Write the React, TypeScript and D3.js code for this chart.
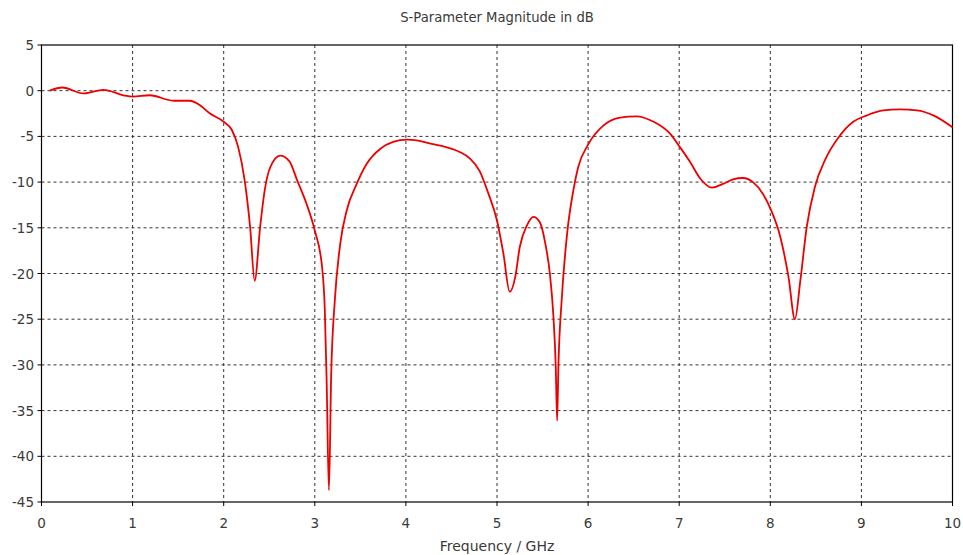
import React from "react";
import * as d3 from "d3";

const freq = [
  0.09, 0.23, 0.46, 0.68, 0.9, 1.0, 1.19, 1.45, 1.63, 1.74, 1.85, 2.0, 2.09, 2.16, 2.23, 2.29, 2.34,
  2.4, 2.45, 2.51, 2.62, 2.72, 2.81, 2.91, 3.0, 3.08, 3.11, 3.13, 3.155, 3.18, 3.22, 3.28, 3.35, 3.46,
  3.57, 3.72, 3.86, 4.01, 4.12, 4.27, 4.45, 4.59, 4.7, 4.81, 4.9, 5.0, 5.07, 5.14, 5.2, 5.25, 5.33,
  5.4, 5.47, 5.53, 5.58, 5.62, 5.645, 5.66, 5.675, 5.71, 5.77, 5.84, 5.89, 6.0, 6.17, 6.35, 6.53,
  6.72, 6.9, 7.01, 7.12, 7.23, 7.36, 7.48, 7.59, 7.7, 7.81, 7.92, 8.01, 8.11, 8.2, 8.27, 8.33, 8.4,
  8.49, 8.6, 8.75, 8.91, 9.06, 9.24, 9.42, 9.61, 9.79, 10.0,
];
const s11 = [
  0.0, 0.35, -0.3, 0.1, -0.5, -0.65, -0.5, -1.1, -1.1, -1.6, -2.5, -3.4, -4.3, -6.2, -9.8, -14.9, -20.8,
  -14.9, -10.9, -8.4, -7.1, -7.7, -9.9, -12.4, -15.3, -19.3, -24, -31.7, -43.7, -31, -22.9, -16.7, -13.1, -10.2,
  -8.0, -6.35, -5.6, -5.36, -5.44, -5.8, -6.2, -6.7, -7.4, -8.8, -11.1, -14.2, -17.8, -22.0, -20.4, -17.1, -14.7,
  -13.8, -14.4, -16.7, -20.0, -24.8, -30.2, -36.1, -29.8, -22.9, -15.6, -10.8, -8.4, -5.9, -3.8, -2.95, -2.8,
  -3.4, -4.7, -6.2, -7.8, -9.6, -10.6, -10.2, -9.7, -9.55, -10.0, -11.3, -13.1, -16.0, -20.4, -25.0, -20.75, -14.9,
  -10.5, -7.6, -5.1, -3.4, -2.7, -2.15, -2.05, -2.15, -2.7, -4.0,
];
const xTicks = [0, 1, 2, 3, 4, 5, 6, 7, 8, 9, 10];
const yTicks = [5, 0, -5, -10, -15, -20, -25, -30, -35, -40, -45];
const title = "S-Parameter Magnitude in dB";
const xLabel = "Frequency / GHz";

const W = 963;
const H = 555;
const L = 41.5;
const R = 952.5;
const T = 45;
const B = 502;

export default function App() {
  const x = d3.scaleLinear().domain([0, 10]).range([L, R]);
  const y = d3.scaleLinear().domain([-45, 5]).range([B, T]);
  const pts = freq.map((f, i) => [f, s11[i]] as [number, number]);
  const line = d3
    .line<[number, number]>()
    .x((d) => x(d[0]))
    .y((d) => y(d[1]))
    .curve(d3.curveMonotoneX);
  const font = "'DejaVu Sans', Verdana, sans-serif";
  const grid = "#333";
  const txt = "#3a3a3a";
  return (
    <svg
      width={W}
      height={H}
      style={{ position: "fixed", left: 0, top: 0, background: "#fff" }}
      fontFamily={font}
    >
      <rect x={0} y={0} width={W} height={H} fill="#fff" />
      <text x={(L + R) / 2} y={22} textAnchor="middle" fontSize={13.2} fill={txt}>
        {title}
      </text>
      {xTicks.slice(1, -1).map((t) => (
        <line key={"gx" + t} x1={x(t)} x2={x(t)} y1={T} y2={B} stroke={grid} strokeWidth={1} strokeDasharray="3,3" />
      ))}
      {yTicks.slice(1, -1).map((t) => (
        <line key={"gy" + t} x1={L} x2={R} y1={y(t)} y2={y(t)} stroke={grid} strokeWidth={1} strokeDasharray="3,3" />
      ))}
      <rect x={L} y={T} width={R - L} height={B - T} fill="none" stroke="#000" strokeWidth={1.2} />
      {xTicks.map((t) => (
        <g key={"xt" + t}>
          <line x1={x(t)} x2={x(t)} y1={B} y2={B + 4} stroke="#000" />
          <text x={x(t)} y={528} textAnchor="middle" fontSize={13.5} fill={txt}>
            {t}
          </text>
        </g>
      ))}
      {yTicks.map((t) => (
        <g key={"yt" + t}>
          <line x1={L - 4} x2={L} y1={y(t)} y2={y(t)} stroke="#000" />
          <text x={34} y={y(t) + 5} textAnchor="end" fontSize={13.5} fill={txt}>
            {t}
          </text>
        </g>
      ))}
      <path d={line(pts) || ""} fill="none" stroke="#ee0000" strokeWidth={1.8} strokeLinejoin="round" />
      <text x={(L + R) / 2} y={551} textAnchor="middle" fontSize={14} fill={txt}>
        {xLabel}
      </text>
    </svg>
  );
}
